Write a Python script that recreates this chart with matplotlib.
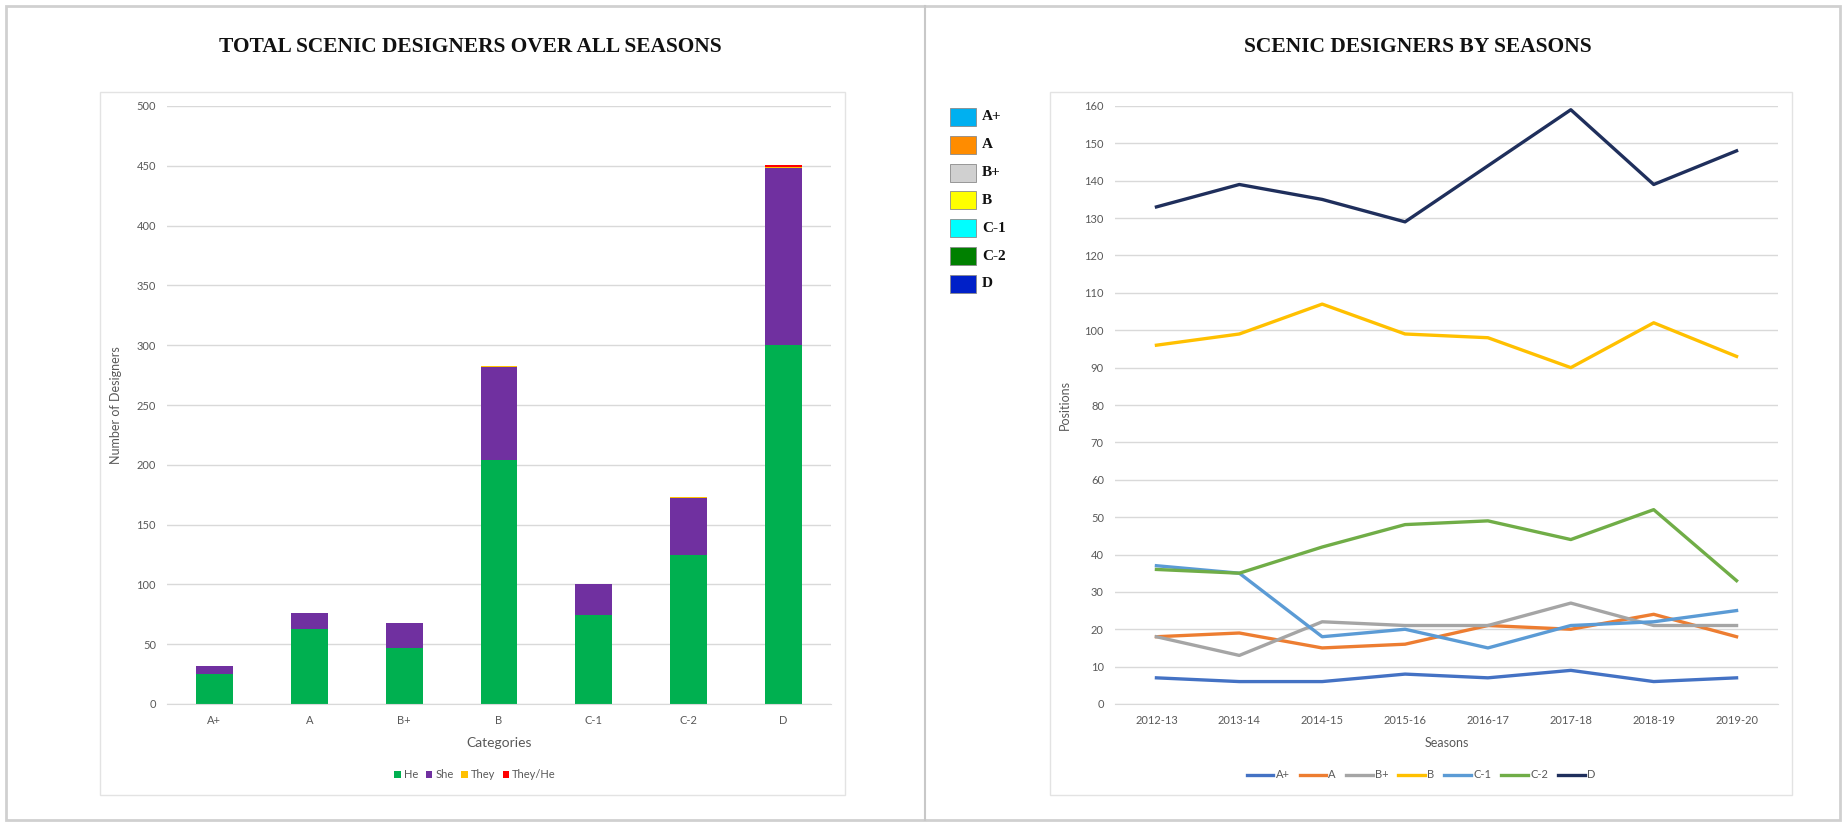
import matplotlib
matplotlib.use("Agg")
import matplotlib.pyplot as plt
from matplotlib.patches import Rectangle
import numpy as np

# --------------------------------------------------
# Data
# --------------------------------------------------
categories = ["A+", "A", "B+", "B", "C-1", "C-2", "D"]
he = [25, 63, 47, 204, 74, 125, 300]
she = [7, 13, 21, 78, 26, 47, 148]
they = [0, 0, 0, 1, 0, 1, 1]
they_he = [0, 0, 0, 0, 0, 0, 2]

seasons = ["2012-13", "2013-14", "2014-15", "2015-16",
           "2016-17", "2017-18", "2018-19", "2019-20"]
pos_a_plus = [7, 6, 6, 8, 7, 9, 6, 7]
pos_a = [18, 19, 15, 16, 21, 20, 24, 18]
pos_b_plus = [18, 13, 22, 21, 21, 27, 21, 21]
pos_b = [96, 99, 107, 99, 98, 90, 102, 93]
pos_c1 = [37, 35, 18, 20, 15, 21, 22, 25]
pos_c2 = [36, 35, 42, 48, 49, 44, 52, 33]
pos_d = [133, 139, 135, 129, 144, 159, 139, 148]

key_labels = ["A+", "A", "B+", "B", "C-1", "C-2", "D"]
key_colors = ["#00B0F0", "#FF8C00", "#D0D0D0", "#FFFF00", "#00FFFF", "#008000", "#0020C8"]

# --------------------------------------------------
# Figure setup
# --------------------------------------------------
W, H = 1845, 825
fig = plt.figure(figsize=(W / 100, H / 100), dpi=100)
fig.patch.set_facecolor("white")

TXT = "#595959"
GRID = "#D9D9D9"
SANS = ["Lato", "DejaVu Sans"]
SERIF = ["Liberation Serif", "DejaVu Serif"]


def fx(px):
    return px / W


def fy(py):
    return 1 - py / H


def frame(x0, y0, x1, y1, color, lw):
    fig.patches.append(Rectangle((fx(x0), fy(y1)), fx(x1 - x0), (y1 - y0) / H,
                                 transform=fig.transFigure, fill=False,
                                 edgecolor=color, linewidth=lw, zorder=0))


# outer border, divider and chart frames
frame(6, 6, 1840, 820, "#D0D0D0", 2)
fig.add_artist(plt.Line2D([fx(925), fx(925)], [fy(6), fy(820)],
                          transform=fig.transFigure, color="#C8C8C8", linewidth=1.5))
frame(100, 92, 845, 795, "#E3E3E3", 1)
frame(1050, 92, 1792, 795, "#E3E3E3", 1)


def style_axes(ax):
    for s in ["top", "right", "left"]:
        ax.spines[s].set_visible(False)
    ax.spines["bottom"].set_color(GRID)
    ax.grid(axis="y", color=GRID, linewidth=1)
    ax.set_axisbelow(True)
    ax.tick_params(length=0, labelsize=8, labelcolor=TXT, pad=8)
    for lab in ax.get_xticklabels() + ax.get_yticklabels():
        lab.set_family(SANS)


# --------------------------------------------------
# Left: stacked bars
# --------------------------------------------------
ax1 = fig.add_axes([fx(167), fy(704), fx(831 - 167), (704 - 106) / H])
x = np.arange(len(categories))
he_a = np.array(he)
she_a = np.array(she)
they_a = np.array(they)
th_a = np.array(they_he)
bw = 0.39
ax1.bar(x, he_a, bw, color="#00B050", label="He")
ax1.bar(x, she_a, bw, bottom=he_a, color="#7030A0", label="She")
ax1.bar(x, they_a, bw, bottom=he_a + she_a, color="#FFC000", label="They")
ax1.bar(x, th_a, bw, bottom=he_a + she_a + they_a, color="#FF0000", label="They/He")
ax1.set_xlim(-0.5, len(categories) - 0.5)
ax1.set_ylim(0, 500)
ax1.set_yticks(np.arange(0, 501, 50))
ax1.set_xticks(x)
ax1.set_xticklabels(categories)
style_axes(ax1)
ax1.set_xlabel("Categories", fontsize=10, color=TXT, family=SANS, labelpad=8)
ax1.set_ylabel("Number of Designers", fontsize=9, color=TXT, family=SANS, labelpad=10)

h1, l1 = ax1.get_legend_handles_labels()
fig.legend(h1, l1, loc="center", bbox_to_anchor=(fx(475), fy(775)), ncol=4,
           frameon=False, handlelength=0.6, handleheight=0.6, handletextpad=0.25,
           columnspacing=0.7, prop={"family": SANS, "size": 8}, labelcolor=TXT)

fig.text(fx(470), fy(47), "TOTAL SCENIC DESIGNERS OVER ALL SEASONS", ha="center", va="center",
         fontsize=15.4, fontweight="bold", family=SERIF, color="#111111")

# --------------------------------------------------
# Right: lines by season
# --------------------------------------------------
ax2 = fig.add_axes([fx(1115), fy(704), fx(1778 - 1115), (704 - 106) / H])
xs = np.arange(len(seasons))
series = [
    ("A+", pos_a_plus, "#4472C4"),
    ("A", pos_a, "#ED7D31"),
    ("B+", pos_b_plus, "#A5A5A5"),
    ("B", pos_b, "#FFC000"),
    ("C-1", pos_c1, "#5B9BD5"),
    ("C-2", pos_c2, "#70AD47"),
    ("D", pos_d, "#1F2F5C"),
]
for name, vals, col in series:
    ax2.plot(xs, vals, color=col, linewidth=2.4, label=name, solid_joinstyle="round")
ax2.set_xlim(-0.5, len(seasons) - 0.5)
ax2.set_ylim(0, 160)
ax2.set_yticks(np.arange(0, 161, 10))
ax2.set_xticks(xs)
ax2.set_xticklabels(seasons)
style_axes(ax2)
ax2.set_xlabel("Seasons", fontsize=9, color=TXT, family=SANS, labelpad=8)
ax2.set_ylabel("Positions", fontsize=9, color=TXT, family=SANS, labelpad=10)

h2, l2 = ax2.get_legend_handles_labels()
fig.legend(h2, l2, loc="center", bbox_to_anchor=(fx(1421), fy(775)), ncol=7,
           frameon=False, handlelength=2.4, handletextpad=0.2,
           columnspacing=0.9, prop={"family": SANS, "size": 8}, labelcolor=TXT)

fig.text(fx(1418), fy(47), "SCENIC DESIGNERS BY SEASONS", ha="center", va="center",
         fontsize=15.5, fontweight="bold", family=SERIF, color="#111111")

# colour key at the side
for i, (lab, col) in enumerate(zip(key_labels, key_colors)):
    yc = 117 + 27.8 * i
    fig.patches.append(Rectangle((fx(950), fy(yc + 9)), fx(26), 18 / H,
                                 transform=fig.transFigure, facecolor=col,
                                 edgecolor="#8A8A8A", linewidth=0.6))
    fig.text(fx(982), fy(yc), lab, ha="left", va="center", fontsize=11,
             fontweight="bold", family=SERIF, color="#111111")

plt.savefig("out.png", dpi=100)
